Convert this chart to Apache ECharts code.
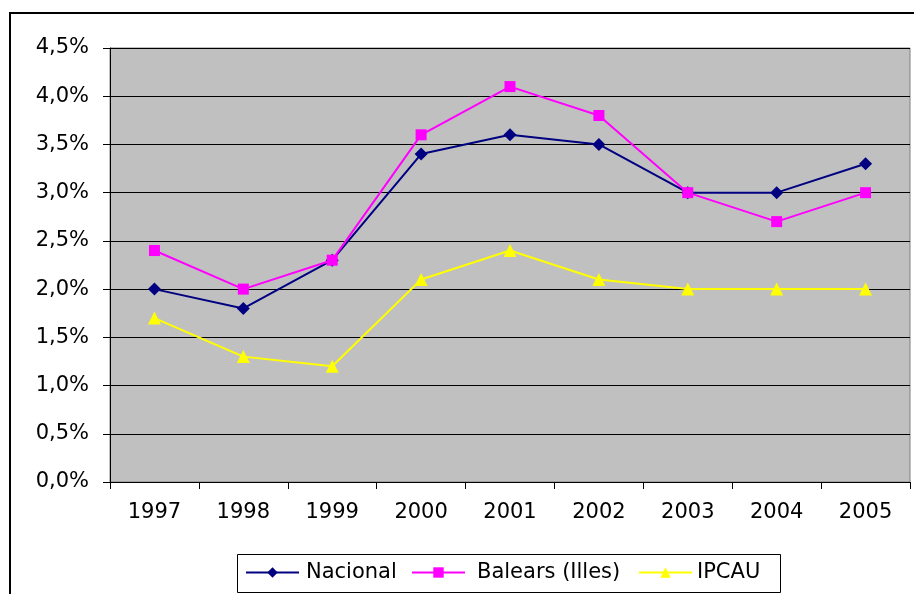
<!DOCTYPE html>
<html><head><meta charset="utf-8">
<script src="https://cdn.jsdelivr.net/npm/echarts@6/dist/echarts.min.js"></script>
<style>html,body{margin:0;padding:0;background:#fff}#c{width:914px;height:594px}</style>
</head><body><div id="c"></div>
<script>
const years = ['1997','1998','1999','2000','2001','2002','2003','2004','2005'];
const nacional = [2.0, 1.8, 2.3, 3.4, 3.6, 3.5, 3.0, 3.0, 3.3];
const balears = [2.4, 2.0, 2.3, 3.6, 4.1, 3.8, 3.0, 2.7, 3.0];
const ipcau = [1.7, 1.3, 1.2, 2.1, 2.4, 2.1, 2.0, 2.0, 2.0];
const seriesNames = ['Nacional', 'Balears (Illes)', 'IPCAU'];

const chart = echarts.init(document.getElementById('c'));
const font = 'DejaVu Sans, Liberation Sans, Arial, sans-serif';
function mk(name, data, color, symbol, size) {
  return {
    name, type: 'line', data, symbol, symbolSize: size,
    itemStyle: { color }, lineStyle: { color, width: 2 },
    emphasis: { disabled: true }, animation: false
  };
}
const legendLefts = [245, 411, 638];
const legendTextPad = [2, 7, 0];
const legends = seriesNames.map((n, i) => ({
  data: [n], left: legendLefts[i], top: 562, padding: 0,
  itemWidth: 53, itemHeight: 13,
  textStyle: { fontFamily: font, fontSize: 21, color: '#000', padding: [0, 0, 0, legendTextPad[i]] },
  itemStyle: { borderWidth: 0 }
}));
chart.setOption({
  animation: false,
  graphic: [{
    type: 'rect', shape: { x: 10, y: 13, width: 1000, height: 700 },
    style: { fill: 'none', stroke: '#000', lineWidth: 2 }, z: -10
  }, {
    type: 'rect', shape: { x: 237.5, y: 554.5, width: 543, height: 38 },
    style: { fill: '#fff', stroke: '#000', lineWidth: 1 }, z: -5
  }],
  grid: { left: 110, top: 48, right: 4, bottom: 112, show: true, backgroundColor: '#C0C0C0', borderColor: '#808080', borderWidth: 1 },
  xAxis: {
    type: 'category', data: years, boundaryGap: true,
    axisLine: { lineStyle: { color: '#000', width: 1 } },
    axisTick: { show: true, length: 7, lineStyle: { color: '#000' } },
    axisLabel: { fontFamily: font, fontSize: 21, color: '#000', margin: 20 },
    splitLine: { show: false }
  },
  yAxis: {
    type: 'value', min: 0, max: 4.5, interval: 0.5,
    axisLine: { show: true, lineStyle: { color: '#000', width: 1 } },
    axisTick: { show: true, length: 7, lineStyle: { color: '#000' } },
    axisLabel: { fontFamily: font, fontSize: 21, color: '#000', margin: 21,
      formatter: v => v.toFixed(1).replace('.', ',') + '%' },
    splitLine: { show: true, lineStyle: { color: '#000', width: 1 } }
  },
  legend: legends,
  series: [
    mk(seriesNames[0], nacional, '#000080', 'diamond', 13),
    mk(seriesNames[1], balears, '#FF00FF', 'rect', 11),
    mk(seriesNames[2], ipcau, '#FFFF00', 'triangle', 13)
  ]
});
</script></body></html>
